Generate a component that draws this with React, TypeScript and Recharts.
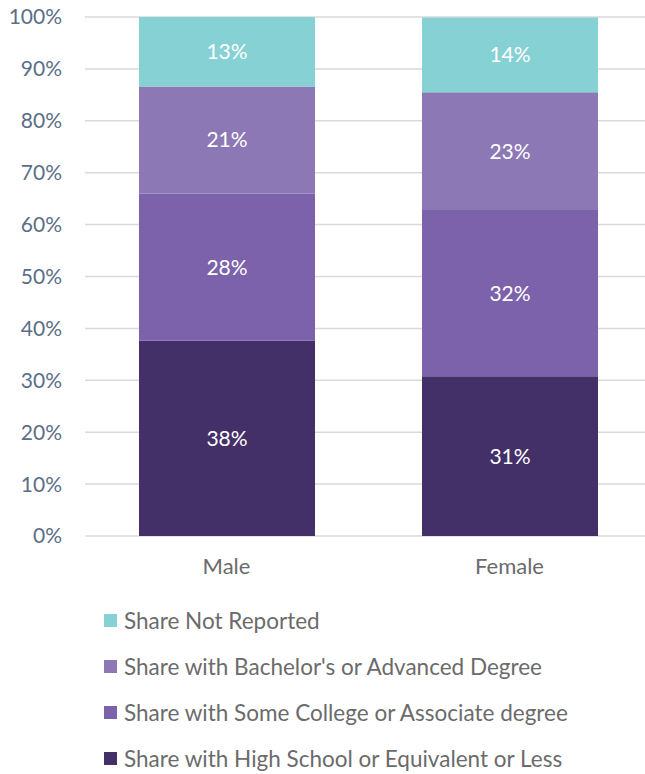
import { BarChart, Bar, XAxis, YAxis, CartesianGrid, LabelList } from 'recharts';

const categories = ['Male', 'Female'];
const highSchool = [37.6, 30.8];
const someCollege = [28.4, 32.0];
const bachelor = [20.6, 22.7];
const notReported = [13.4, 14.4];
const yTicks = [0, 10, 20, 30, 40, 50, 60, 70, 80, 90, 100];

const series = [
  { key: 'highSchool', name: 'Share with High School or Equivalent or Less', color: '#433068' },
  { key: 'someCollege', name: 'Share with Some College or Associate degree', color: '#7B62AA' },
  { key: 'bachelor', name: "Share with Bachelor's or Advanced Degree", color: '#8B78B5' },
  { key: 'notReported', name: 'Share Not Reported', color: '#86D1D4' },
];

const chartData = categories.map((name, i) => ({
  name,
  highSchool: highSchool[i],
  someCollege: someCollege[i],
  bachelor: bachelor[i],
  notReported: notReported[i],
}));

const font = 'Lato, "Open Sans", sans-serif';

export default function App() {
  return (
    <div style={{ position: 'absolute', left: 0, top: 0, width: 645, height: 774, overflow: 'hidden', background: '#fff', fontFamily: font }}>
      <BarChart
        width={651}
        height={774}
        data={chartData}
        margin={{ top: 17, right: 0, left: 0, bottom: 178 }}
      >
        <CartesianGrid vertical={false} stroke="#d9d9d9" strokeWidth={1.5} />
        <XAxis
          dataKey="name"
          axisLine={false}
          tickLine={false}
          tickMargin={16}
          height={60}
          tick={{ fill: '#6b6b6b', fontSize: 22, fontFamily: font }}
        />
        <YAxis
          domain={[0, 100]}
          ticks={yTicks}
          width={85}
          axisLine={false}
          tickLine={false}
          tickMargin={17}
          tickFormatter={(v) => `${v}%`}
          tick={{ fill: '#5b6e86', fontSize: 21, fontFamily: font }}
        />
        {series.map((s) => (
          <Bar
            key={s.key}
            dataKey={s.key}
            stackId="a"
            fill={s.color}
            barSize={176}
            isAnimationActive={false}
          >
            <LabelList
              dataKey={s.key}
              position="center"
              formatter={(v: number) => `${Math.round(v)}%`}
              style={{ fill: '#fff', fontSize: 21, fontFamily: font }}
            />
          </Bar>
        ))}
      </BarChart>
      <div style={{ position: 'absolute', left: 104, top: 597 }}>
        {[...series].reverse().map((s) => (
          <div key={s.key} style={{ display: 'flex', alignItems: 'center', height: 46, color: '#6b6b6b', fontSize: 22.5, whiteSpace: 'nowrap' }}>
            <span style={{ width: 13, height: 13, background: s.color, marginRight: 7, display: 'inline-block', flexShrink: 0 }} />
            <span>{s.name}</span>
          </div>
        ))}
      </div>
    </div>
  );
}
